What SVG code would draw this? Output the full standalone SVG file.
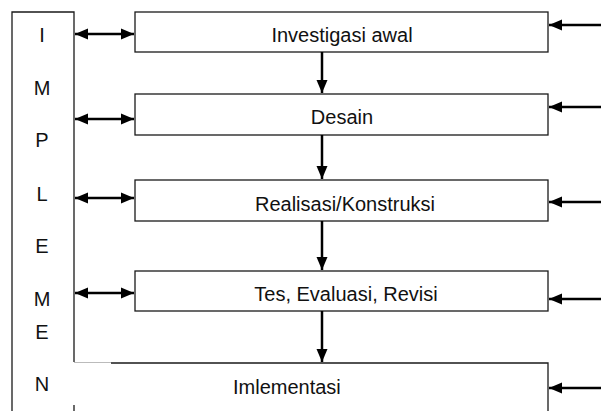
<svg xmlns="http://www.w3.org/2000/svg" width="601" height="411" viewBox="0 0 601 411">
<style>
.box{fill:#fff;stroke:#1a1a1a;stroke-width:1.3}
.ln{fill:none;stroke:#1a1a1a;stroke-width:1.3}
.t{font-family:"Liberation Sans",Arial,sans-serif;font-size:20px;fill:#111}
.c{fill:none;stroke:#000;stroke-width:2.5}
</style>
<defs>
<marker id="ah" markerUnits="userSpaceOnUse" markerWidth="14" markerHeight="12" refX="13" refY="6" orient="auto-start-reverse">
<path d="M0,0.5 L13,6 L0,11.5 z" fill="#000"/>
</marker>
</defs>
<rect width="601" height="411" fill="#fff"/>
<g id="implementasi-bar">
<path class="ln" d="M12,411 V12 H74 V362"/>
<path d="M74,362.5 H111" stroke="#bbb" stroke-width="1"/>
<path class="ln" d="M74,405 V411"/>
<g class="t" text-anchor="middle">
<text x="42" y="42">I</text>
<text x="42" y="95">M</text>
<text x="42" y="147">P</text>
<text x="42" y="201">L</text>
<text x="42" y="253">E</text>
<text x="42" y="306">M</text>
<text x="42" y="339">E</text>
<text x="42" y="391">N</text>
</g>
</g>
<g id="n1"><rect class="box" x="135" y="12" width="413" height="40"/><text class="t" x="342" y="42" text-anchor="middle">Investigasi awal</text></g>
<g id="n2"><rect class="box" x="135" y="94" width="413" height="41"/><text class="t" x="342" y="124" text-anchor="middle">Desain</text></g>
<g id="n3"><rect class="box" x="135" y="180" width="413" height="41"/><text class="t" x="345" y="211" text-anchor="middle">Realisasi/Konstruksi</text></g>
<g id="n4"><rect class="box" x="135" y="271" width="413" height="40"/><text class="t" x="346" y="301" text-anchor="middle">Tes, Evaluasi, Revisi</text></g>
<g id="n5"><path class="ln" d="M111,363 H548 V411"/><text class="t" x="233" y="394">Imlementasi</text></g>
<g id="connectors">
<path class="c" d="M75,34 H134" marker-start="url(#ah)" marker-end="url(#ah)"/>
<path class="c" d="M75,119 H134" marker-start="url(#ah)" marker-end="url(#ah)"/>
<path class="c" d="M75,198 H134" marker-start="url(#ah)" marker-end="url(#ah)"/>
<path class="c" d="M75,293 H134" marker-start="url(#ah)" marker-end="url(#ah)"/>
<path class="c" d="M601,25 H549" marker-end="url(#ah)"/>
<path class="c" d="M601,107 H549" marker-end="url(#ah)"/>
<path class="c" d="M601,202 H549" marker-end="url(#ah)"/>
<path class="c" d="M601,299 H549" marker-end="url(#ah)"/>
<path class="c" d="M601,388 H549" marker-end="url(#ah)"/>
<path class="c" d="M322,52 V93" marker-end="url(#ah)"/>
<path class="c" d="M322,135 V179" marker-end="url(#ah)"/>
<path class="c" d="M322,221 V270" marker-end="url(#ah)"/>
<path class="c" d="M322,311 V362" marker-end="url(#ah)"/>
</g>
</svg>
